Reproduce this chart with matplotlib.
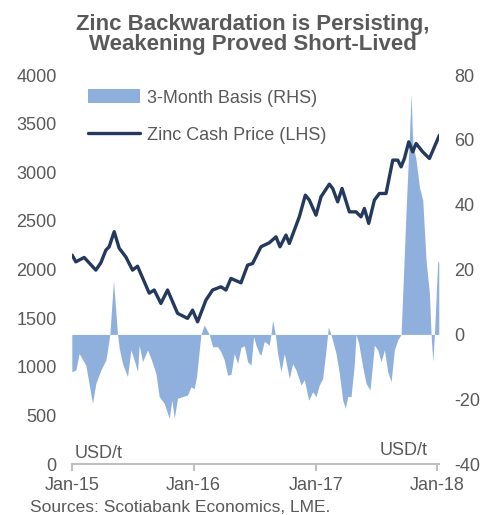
import pandas as pd
import matplotlib.pyplot as plt
import matplotlib.dates as mdates
from matplotlib.lines import Line2D
from matplotlib.patches import Patch

plt.rcParams['font.family'] = ['Liberation Sans', 'DejaVu Sans']
plt.rcParams['axes.unicode_minus'] = False

# Zinc cash price, USD/t (left axis)
price_dates = ['2015-01-02', '2015-01-13', '2015-02-07', '2015-03-14', '2015-03-29',
               '2015-04-13', '2015-04-23', '2015-05-08', '2015-05-23', '2015-06-12',
               '2015-07-02', '2015-07-17', '2015-08-21', '2015-09-05', '2015-09-25',
               '2015-10-15', '2015-11-14', '2015-12-14', '2015-12-29', '2016-01-13',
               '2016-02-07', '2016-02-27', '2016-03-23', '2016-04-07', '2016-04-22',
               '2016-05-22', '2016-06-11', '2016-06-26', '2016-07-21', '2016-08-15',
               '2016-09-04', '2016-09-16', '2016-10-04', '2016-10-14', '2016-11-13',
               '2016-12-01', '2016-12-13', '2017-01-02', '2017-01-17', '2017-02-11',
               '2017-02-21', '2017-03-08', '2017-03-21', '2017-04-12', '2017-05-02',
               '2017-05-17', '2017-05-27', '2017-06-09', '2017-06-26', '2017-07-11',
               '2017-07-31', '2017-08-20', '2017-09-04', '2017-09-14', '2017-09-24',
               '2017-10-07', '2017-10-19', '2017-10-29', '2017-11-18', '2017-12-08',
               '2018-01-07']
price = [2149, 2080, 2125, 1995, 2070, 2200, 2235, 2390, 2220, 2130,
         1995, 2035, 1758, 1790, 1652, 1790, 1550, 1498, 1583, 1463,
         1686, 1790, 1823, 1790, 1909, 1864, 2046, 2063, 2235, 2276,
         2337, 2235, 2355, 2269, 2543, 2766, 2715, 2560, 2749, 2879,
         2835, 2697, 2835, 2594, 2594, 2543, 2629, 2475, 2715, 2783,
         2783, 3126, 3126, 3057, 3143, 3314, 3211, 3297, 3211, 3143,
         3383]

# 3-month basis, USD/t (right axis)
basis_dates = ['2015-01-01', '2015-01-13', '2015-01-23', '2015-02-12', '2015-03-04',
               '2015-03-14', '2015-03-29', '2015-04-13', '2015-04-21', '2015-04-25',
               '2015-05-06', '2015-05-18', '2015-05-23', '2015-06-02', '2015-06-17',
               '2015-06-27', '2015-07-07', '2015-07-17', '2015-07-22', '2015-08-01',
               '2015-08-16', '2015-08-26', '2015-09-10', '2015-09-20', '2015-10-05',
               '2015-10-20', '2015-10-28', '2015-11-04', '2015-11-14', '2015-11-29',
               '2015-12-14', '2015-12-24', '2016-01-03', '2016-01-10', '2016-01-16',
               '2016-01-23', '2016-02-02', '2016-02-17', '2016-02-27', '2016-03-13',
               '2016-03-23', '2016-04-02', '2016-04-12', '2016-04-22', '2016-05-02',
               '2016-05-12', '2016-05-22', '2016-06-01', '2016-06-11', '2016-06-21',
               '2016-06-29', '2016-07-06', '2016-07-16', '2016-07-21', '2016-07-31',
               '2016-08-15', '2016-08-20', '2016-08-25', '2016-09-02', '2016-09-09',
               '2016-09-19', '2016-09-29', '2016-10-14', '2016-10-24', '2016-11-03',
               '2016-11-18', '2016-11-28', '2016-12-11', '2016-12-23', '2017-01-02',
               '2017-01-12', '2017-01-22', '2017-02-01', '2017-02-08', '2017-02-16',
               '2017-03-03', '2017-03-13', '2017-03-23', '2017-03-31', '2017-04-07',
               '2017-04-17', '2017-04-27', '2017-05-02', '2017-05-10', '2017-05-22',
               '2017-06-01', '2017-06-13', '2017-06-26', '2017-07-06', '2017-07-16',
               '2017-07-26', '2017-08-05', '2017-08-15', '2017-08-25', '2017-09-04',
               '2017-09-14', '2017-09-19', '2017-09-29', '2017-10-09', '2017-10-14',
               '2017-10-19', '2017-10-29', '2017-11-08', '2017-11-18', '2017-11-28',
               '2017-12-08', '2017-12-13', '2017-12-18', '2017-12-23', '2018-01-02',
               '2018-01-05']
basis = [-11.5, -11, -5.9, -9.5, -21.3, -15.1, -11, -7.9, -2.8, 0,
         16.7, 0, -4.2, -9, -13, -4.8, -7.9, -11.5, -3.3, -8.4,
         -4.8, -7.4, -12, -19.2, -21.3, -25.9, -20.3, -25.9, -19.7, -19.2,
         -18.7, -16.2, -16.7, -13, -6.9, 0, 2.9, 0, -3.8, -3.8,
         -5.4, -7.9, -12.6, -12.3, -5.9, -9, -4, -3.5, -8.4, -9.5,
         -0.7, -3.3, -5.9, -6.4, -2.1, -3.3, 0, 4.4, 0, -5.9,
         -11.5, -5.9, -13.6, -9, -11, -15.6, -14, -20.3, -17.7, -19.2,
         -15.6, -13.6, -4.8, 2.3, 0, -5.9, -12, -20.3, -22.8, -19.2,
         -19.2, -9, 0, -2.8, -10, -15.1, -17.2, -3.3, -4.8, -8.4,
         -4.8, -11.5, -14.6, -4.8, -1.7, 0, 12.6, 38.3, 61, 74.3,
         59, 53.8, 45.5, 41.4, 22.9, 12.6, 0, -8.4, 0, 22.9,
         22]

year_ticks = ['2015-01-01', '2016-01-01', '2017-01-01', '2018-01-01']

grey = '#595959'
area_col = '#8FB0DC'
line_col = '#23395D'

fig = plt.figure(figsize=(4.82, 5.15), dpi=100)
ax = fig.add_axes([0.149, 0.099, 0.762, 0.755])
ax2 = ax.twinx()

pd_price = pd.to_datetime(price_dates)
pd_basis = pd.to_datetime(basis_dates)

ax2.fill_between(pd_basis, 0, basis, color=area_col, linewidth=0)
ax.plot(pd_price, price, color=line_col, linewidth=2.4, solid_capstyle='round')

# price line above the area
ax.set_zorder(ax2.get_zorder() + 1)
ax.patch.set_visible(False)

ax.set_ylim(0, 4000)
ax2.set_ylim(-40, 80)
ax.set_yticks(range(0, 4001, 500))
ax2.set_yticks(range(-40, 81, 20))
ax.set_xlim(pd.Timestamp('2015-01-01'), pd.Timestamp('2018-01-06'))
ax.set_xticks(pd.to_datetime(year_ticks))
ax.xaxis.set_major_formatter(mdates.DateFormatter('%b-%y'))

for a in (ax, ax2):
    for s in ['top', 'left', 'right', 'bottom']:
        a.spines[s].set_visible(False)
ax.spines['bottom'].set_visible(True)
ax.spines['bottom'].set_color('#BFBFBF')
ax.spines['bottom'].set_linewidth(1.5)

ax.tick_params(axis='x', colors='#BFBFBF', width=1.5, length=5, labelcolor=grey,
               labelsize=13, pad=4)
ax.tick_params(axis='y', length=0, labelcolor=grey, labelsize=13, pad=11)
ax2.tick_params(axis='y', length=0, labelcolor=grey, labelsize=13, pad=11)

ax.text(0.008, 0.028, 'USD/t', transform=ax.transAxes, color=grey, fontsize=13,
        va='center', ha='left')
ax.text(0.968, 0.035, 'USD/t', transform=ax.transAxes, color=grey, fontsize=13,
        va='center', ha='right')

handles = [Patch(facecolor=area_col, edgecolor='none'),
           Line2D([0], [0], color=line_col, linewidth=2.4, solid_capstyle='round')]
leg = ax.legend(handles, ['3-Month Basis (RHS)', 'Zinc Cash Price (LHS)'],
                loc='upper left', bbox_to_anchor=(0.0, 1.005), frameon=False,
                fontsize=13, handlelength=2.9, handleheight=0.8,
                labelspacing=1.1, handletextpad=0.35)
for t in leg.get_texts():
    t.set_color(grey)

fig.text(0.525, 1 - 30 / 515, 'Zinc Backwardation is Persisting,', ha='center',
         va='baseline', fontsize=16, fontweight='bold', color=grey)
fig.text(0.525, 1 - 50 / 515, 'Weakening Proved Short-Lived', ha='center',
         va='baseline', fontsize=16, fontweight='bold', color=grey)
fig.text(0.062, 1 - 508 / 515, 'Sources: Scotiabank Economics, LME.', ha='left',
         va='center', fontsize=12.5, color=grey)

fig.savefig('out.png', dpi=100)
